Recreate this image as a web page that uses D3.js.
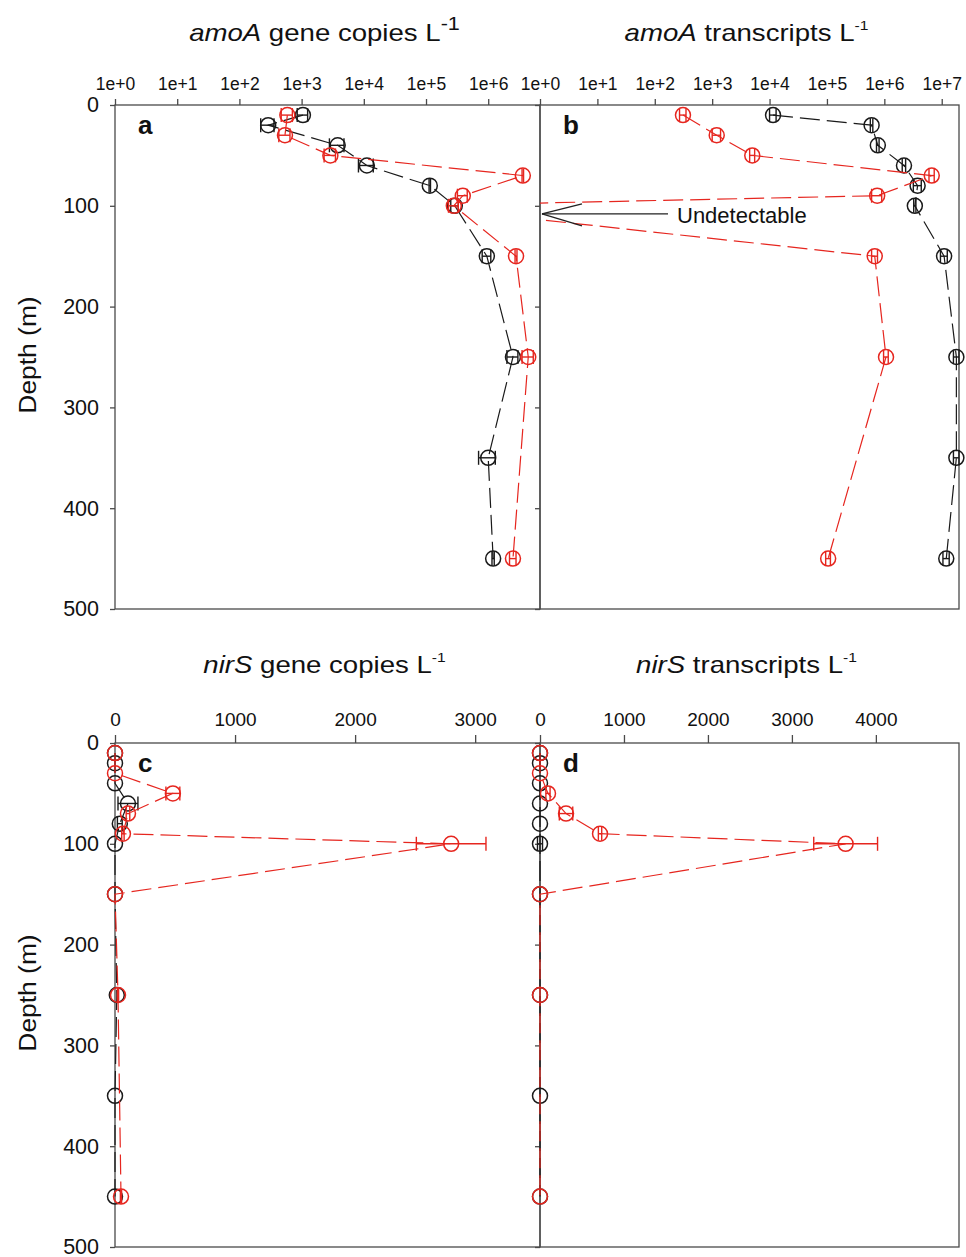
<!DOCTYPE html>
<html>
<head>
<meta charset="utf-8">
<script src="https://cdn.jsdelivr.net/npm/d3@7"></script>
<style>
  body { margin: 0; background: #fff; }
  text { font-family: "Liberation Sans", Arial, sans-serif; fill: #111; }
</style>
</head>
<body>
<svg id="chart" width="966" height="1257"></svg>
<script>
// depths sampled (m)
const blackDepths = [10, 20, 40, 60, 80, 100, 150, 250, 350, 450];
const redDepths = [10, 30, 50, 70, 90, 100, 150, 250, 450];

// a: amoA gene copies L-1
const amoaGeneBlack = [1050, 290, 3800, 11200, 115000, 290000, 950000, 2500000, 1000000, 1200000];
const amoaGeneBlackErr = [200, 70, 1000, 3000, 3000, 40000, 150000, 500000, 300000, 50000];
const amoaGeneRed = [590, 540, 2900, 3600000, 390000, 280000, 2800000, 4400000, 2500000];
const amoaGeneRedErr = [120, 110, 600, 100000, 70000, 50000, 100000, 900000, 300000];

// b: amoA transcripts L-1 (red at 100 m undetectable, plotted off scale)
const amoaTransBlack = [11500, 600000, 770000, 2200000, 3800000, 3400000, 11000000, 18000000, 18000000, 12000000];
const amoaTransBlackErr = [1500, 30000, 40000, 150000, 600000, 150000, 1500000, 2000000, 2000000, 1500000];
const amoaTransRed = [310, 1200, 5000, 6700000, 750000, 0.006, 680000, 1070000, 105000];
const amoaTransRedErr = [40, 200, 500, 700000, 150000, 0, 80000, 100000, 10000];

// c: nirS gene copies L-1
const nirsGeneBlack = [0, 0, 0, 108, 40, 0, 0, 15, 0, 0];
const nirsGeneBlackErr = [0, 0, 0, 83, 20, 0, 0, 0, 0, 0];
const nirsGeneRed = [0, 0, 482, 108, 66, 2800, 0, 25, 50];
const nirsGeneRedErr = [0, 0, 58, 15, 10, 290, 0, 5, 5];

// d: nirS transcripts L-1
const nirsTransBlack = [0, 0, 0, 0, 0, 0, 0, 0, 0, 0];
const nirsTransBlackErr = [0, 0, 0, 0, 0, 30, 0, 0, 0, 0];
const nirsTransRed = [0, 0, 95, 310, 715, 3640, 0, 0, 0];
const nirsTransRedErr = [0, 0, 25, 80, 20, 380, 0, 0, 0];

const depthTicks = [0, 100, 200, 300, 400, 500];
const logTicks = [1, 1e1, 1e2, 1e3, 1e4, 1e5, 1e6, 1e7];
const linTicksC = [0, 1000, 2000, 3000];
const linTicksD = [0, 1000, 2000, 3000, 4000];

const RED = '#e6261f';
const BLACK = '#1a1a1a';
const AXIS = '#4a4a4a';

const svg = d3.select('#chart');
const defs = svg.append('defs');

const left = 115, mid = 540, right = 959;
const topRow = [105, 609], botRow = [743, 1247];

const yTop = d3.scaleLinear().domain([0, 500]).range(topRow);
const yBot = d3.scaleLinear().domain([0, 500]).range(botRow);

const panels = [
  {
    key: 'a', x: d3.scaleLog().domain([1, 6.8e6]).range([left, mid]), y: yTop,
    ticks: logTicks.filter(t => t <= 6.8e6), tickSize: 6, tickFont: 17.5, log: true, labelsY: true,
    black: amoaGeneBlack, blackErr: amoaGeneBlackErr, red: amoaGeneRed, redErr: amoaGeneRedErr,
    title: ['amoA', ' gene copies L', '-1'], supSize: 18, titleY: 41
  },
  {
    key: 'b', x: d3.scaleLog().domain([1, 2e7]).range([mid, right]), y: yTop,
    ticks: logTicks, tickSize: 6, tickFont: 17.5, log: true, labelsY: false, clip: true,
    black: amoaTransBlack, blackErr: amoaTransBlackErr, red: amoaTransRed, redErr: amoaTransRedErr,
    title: ['amoA', ' transcripts L', '-1'], supSize: 13, titleY: 41
  },
  {
    key: 'c', x: d3.scaleLinear().domain([0, 3540]).range([left, mid]), y: yBot,
    ticks: linTicksC, tickSize: 8, tickFont: 19, log: false, labelsY: true,
    black: nirsGeneBlack, blackErr: nirsGeneBlackErr, red: nirsGeneRed, redErr: nirsGeneRedErr,
    title: ['nirS', ' gene copies L', '-1'], supSize: 13, titleY: 673
  },
  {
    key: 'd', x: d3.scaleLinear().domain([0, 4990]).range([mid, right]), y: yBot,
    ticks: linTicksD, tickSize: 8, tickFont: 19, log: false, labelsY: false,
    black: nirsTransBlack, blackErr: nirsTransBlackErr, red: nirsTransRed, redErr: nirsTransRedErr,
    title: ['nirS', ' transcripts L', '-1'], supSize: 13, titleY: 673
  }
];

const drawPanel = p => {
  const [x0, x1] = p.x.range();
  const [y0, y1] = p.y.range();
  const g = svg.append('g').attr('class', 'panel-' + p.key);

  // frame
  g.append('rect')
    .attr('x', x0).attr('y', y0)
    .attr('width', x1 - x0).attr('height', y1 - y0)
    .attr('fill', 'none').attr('stroke', AXIS).attr('stroke-width', 1.3);

  // top x axis
  g.append('g')
    .attr('transform', `translate(0,${y0})`)
    .call(
      d3.axisTop(p.x)
        .tickValues(p.ticks)
        .tickSize(p.tickSize)
        .tickPadding(9)
        .tickFormat(d => (p.log ? '1e+' + Math.round(Math.log10(d)) : d))
    )
    .call(a => a.select('.domain').remove())
    .call(a => a.selectAll('line').attr('stroke', AXIS).attr('stroke-width', 1.3))
    .call(a => a.selectAll('text').attr('font-size', p.tickFont).attr('font-family', null));

  // left y axis
  g.append('g')
    .attr('transform', `translate(${x0},0)`)
    .call(
      d3.axisLeft(p.y)
        .tickValues(depthTicks)
        .tickSize(5)
        .tickPadding(11)
        .tickFormat(p.labelsY ? d3.format('d') : '')
    )
    .call(a => a.select('.domain').remove())
    .call(a => a.selectAll('line').attr('stroke', AXIS).attr('stroke-width', 1.3))
    .call(a => a.selectAll('text').attr('font-size', 21.5).attr('font-family', null));

  // title
  const title = svg.append('g')
    .attr('transform', `translate(${(x0 + x1) / 2 - 3},${p.titleY}) scale(1.2,1)`)
    .append('text')
    .attr('text-anchor', 'middle')
    .attr('font-size', 23);
  title.append('tspan').attr('font-style', 'italic').text(p.title[0]);
  title.append('tspan').text(p.title[1]);
  title.append('tspan').attr('font-size', p.supSize).attr('dy', -11).text(p.title[2]);

  // panel letter
  g.append('text')
    .attr('x', x0 + 23).attr('y', y0 + 29)
    .attr('font-size', 26).attr('font-weight', 'bold')
    .text(p.key);

  const body = g.append('g');
  if (p.clip) {
    defs.append('clipPath').attr('id', 'clip-' + p.key)
      .append('rect')
      .attr('x', x0).attr('y', y0 - 20)
      .attr('width', x1 - x0 + 20).attr('height', y1 - y0 + 40);
    body.attr('clip-path', `url(#clip-${p.key})`);
  }

  const minX = p.x.domain()[0];
  const series = [
    { color: BLACK, depths: blackDepths, values: p.black, errs: p.blackErr },
    { color: RED, depths: redDepths, values: p.red, errs: p.redErr }
  ];

  series.forEach(s => {
    const pts = s.depths.map((depth, i) => ({ depth, v: s.values[i], e: s.errs[i] }));
    const line = d3.line().x(d => p.x(d.v)).y(d => p.y(d.depth));

    body.append('path')
      .attr('d', line(pts))
      .attr('fill', 'none')
      .attr('stroke', s.color)
      .attr('stroke-width', 1.2)
      .attr('stroke-dasharray', '20,7');

    const visible = pts.filter(d => d.v >= minX);
    const errPts = visible.filter(d => d.e > 0);
    const lo = d => p.x(p.log ? Math.max(d.v - d.e, minX) : d.v - d.e);
    const hi = d => p.x(d.v + d.e);

    const eb = body.append('g').attr('stroke', s.color).attr('stroke-width', 1.4);
    eb.selectAll('line.bar').data(errPts).join('line').attr('class', 'bar')
      .attr('x1', lo).attr('x2', hi)
      .attr('y1', d => p.y(d.depth)).attr('y2', d => p.y(d.depth));
    eb.selectAll('line.capl').data(errPts).join('line').attr('class', 'capl')
      .attr('x1', lo).attr('x2', lo)
      .attr('y1', d => p.y(d.depth) - 7).attr('y2', d => p.y(d.depth) + 7);
    eb.selectAll('line.caph').data(errPts).join('line').attr('class', 'caph')
      .attr('x1', hi).attr('x2', hi)
      .attr('y1', d => p.y(d.depth) - 7).attr('y2', d => p.y(d.depth) + 7);

    body.append('g').selectAll('circle').data(visible).join('circle')
      .attr('cx', d => p.x(d.v))
      .attr('cy', d => p.y(d.depth))
      .attr('r', 7.5)
      .attr('fill', 'none')
      .attr('stroke', s.color)
      .attr('stroke-width', 1.5);
  });

  return p;
};

panels.forEach(drawPanel);

// Depth labels
[yTop, yBot].forEach(y => {
  const c = (y.range()[0] + y.range()[1]) / 2 - 2;
  svg.append('g')
    .attr('transform', `translate(36,${c}) rotate(-90) scale(1.1,1)`)
    .append('text')
    .attr('text-anchor', 'middle')
    .attr('font-size', 24)
    .text('Depth (m)');
});

// "Undetectable" annotation in panel b
const pb = panels[1];
const tipX = pb.x(1) + 2;
const tipY = yTop(108);
const ann = svg.append('g').attr('stroke', '#222').attr('stroke-width', 1.3);
ann.append('line').attr('x1', tipX).attr('y1', tipY).attr('x2', tipX + 126).attr('y2', tipY);
ann.append('line').attr('x1', tipX).attr('y1', tipY).attr('x2', tipX + 40).attr('y2', tipY - 10);
ann.append('line').attr('x1', tipX).attr('y1', tipY).attr('x2', tipX + 40).attr('y2', tipY + 12);
svg.append('text')
  .attr('x', tipX + 135).attr('y', tipY + 9)
  .attr('font-size', 22)
  .text('Undetectable');
</script>
</body>
</html>
